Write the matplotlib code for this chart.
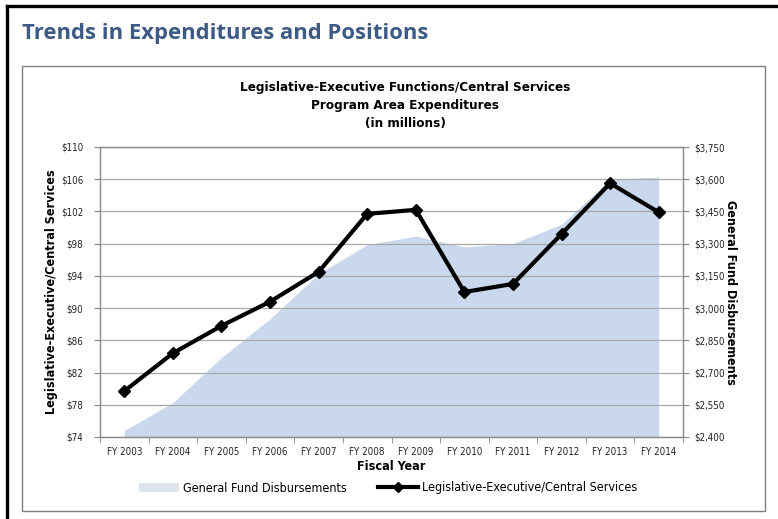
import numpy as np
import matplotlib
matplotlib.use("Agg")
import matplotlib.pyplot as plt
from matplotlib.lines import Line2D
from matplotlib.patches import Patch, Rectangle

plt.rcParams['font.family'] = ['Liberation Sans Narrow', 'DejaVu Sans']
plt.rcParams['font.stretch'] = 'condensed'

# data
years = ["FY 2003", "FY 2004", "FY 2005", "FY 2006", "FY 2007", "FY 2008",
         "FY 2009", "FY 2010", "FY 2011", "FY 2012", "FY 2013", "FY 2014"]
leg_exec = [79.7, 84.4, 87.8, 90.8, 94.5, 101.7, 102.2, 92.0, 93.0, 99.2, 105.5, 101.9]
general_fund = [2430, 2560, 2770, 2950, 3160, 3295, 3335, 3285, 3300, 3390, 3600, 3610]

left_ticks = list(range(74, 111, 4))
right_ticks = list(range(2400, 3751, 150))

W, H = 778, 519
fig = plt.figure(figsize=(W / 100, H / 100), dpi=100)

# page frame and chart box
fig.add_artist(Line2D([7 / W, 7 / W], [0, 1 - 6 / H], color='black', lw=2.4))
fig.add_artist(Line2D([7 / W, 1], [1 - 6 / H, 1 - 6 / H], color='black', lw=2.4))
fig.add_artist(Rectangle((22 / W, 1 - 511 / H), (765 - 22) / W, (511 - 66) / H,
                         fill=False, ec='#7f7f7f', lw=1.0))

fig.text(22 / W, 1 - 33 / H, "Trends in Expenditures and Positions",
         family=['Open Sans', 'DejaVu Sans'], stretch='normal', weight='bold', fontsize=15.8,
         color='#3d5a84', ha='left', va='center')

fig.text(405 / W, 1 - 106 / H,
         "Legislative-Executive Functions/Central Services\nProgram Area Expenditures\n(in millions)",
         weight='bold', fontsize=9.6, ha='center', va='center', linespacing=1.5)

ax = fig.add_axes([100 / W, 1 - 437 / H, (683 - 100) / W, (437 - 147) / H])
ax2 = ax.twinx()
ax.set_zorder(ax2.get_zorder() + 1)
ax.patch.set_visible(False)

x = np.arange(len(years))

ax2.fill_between(x, 2400, general_fund, color='#c9d8ec', lw=0)
ax2.set_ylim(2400, 3750)
ax2.set_yticks(right_ticks)
ax2.set_yticklabels(['${:,}'.format(v) for v in right_ticks])

ax.plot(x, leg_exec, color='black', lw=3, marker='D', ms=6)
ax.set_ylim(74, 110)
ax.set_yticks(left_ticks)
ax.set_yticklabels(['${}'.format(v) for v in left_ticks])
ax.set_xlim(-0.5, len(years) - 0.5)
ax.set_xticks(x)
ax.set_xticklabels(years)
ax.set_xticks(np.arange(-0.5, len(years)), minor=True)
ax.tick_params(axis='x', which='major', length=0, labelsize=7, pad=7, colors='#222222')
ax.tick_params(axis='x', which='minor', length=4, color='#888888')
ax.tick_params(axis='y', length=4, color='#888888', labelsize=7, labelcolor='#222222', pad=8)
ax2.tick_params(axis='y', length=4, color='#888888', labelsize=7, labelcolor='#222222', pad=4)

ax.grid(axis='y', color='#a8a8a8', lw=0.9)
ax.set_axisbelow(True)
for a in (ax, ax2):
    for s in a.spines.values():
        s.set_color('#8c8c8c')
        s.set_linewidth(0.9)

ax.set_xlabel("Fiscal Year", weight='bold', fontsize=9, labelpad=2)
ax.set_ylabel("Legislative-Executive/Central Services", weight='bold', fontsize=9, labelpad=2)
ax2.set_ylabel("General Fund Disbursements", weight='bold', fontsize=9,
               rotation=-90, labelpad=9)

handles = [Patch(color='#dde4ee', lw=0),
           Line2D([], [], color='black', lw=3, marker='D', ms=5)]
fig.legend(handles, ["General Fund Disbursements", "Legislative-Executive/Central Services"],
           loc='center', bbox_to_anchor=(388 / W, 1 - 488 / H), ncol=2, frameon=False,
           fontsize=9, handlelength=3.2, handletextpad=0.3, columnspacing=2.5)

fig.savefig("out.png", dpi=100)
